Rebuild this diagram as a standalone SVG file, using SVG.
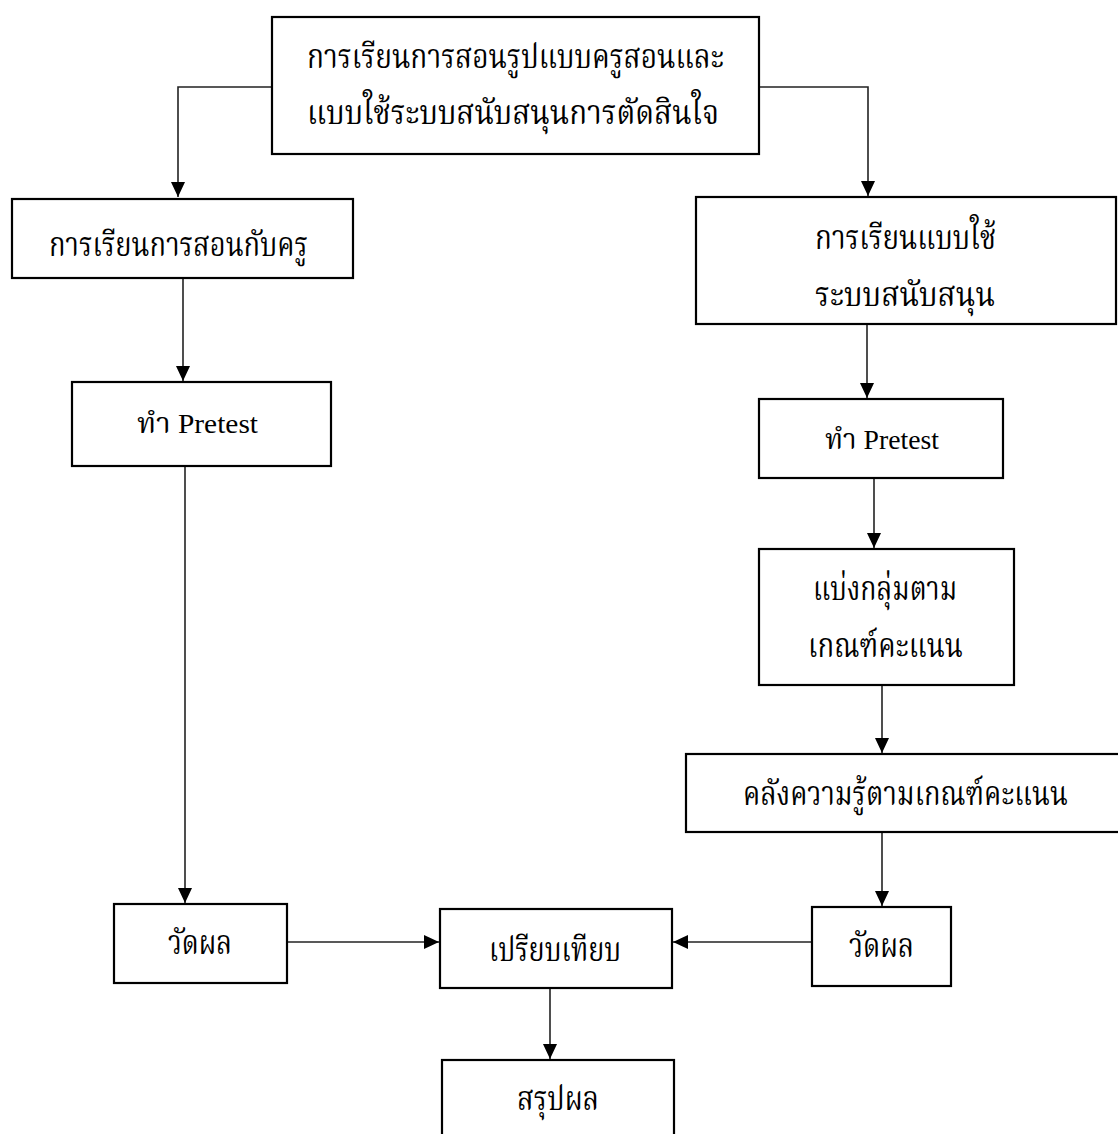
<svg xmlns="http://www.w3.org/2000/svg" width="1118" height="1134" viewBox="0 0 1118 1134">
<style>
.box{fill:#fff;stroke:#000;stroke-width:2.2}
.t{font-family:"Liberation Serif","Noto Serif Thai","Noto Sans Thai",serif;font-size:33px;fill:#000;text-anchor:middle}
.p{font-size:28px}
.c{fill:none;stroke:#222;stroke-width:1.6}
</style>
<defs>
<marker id="ah" viewBox="0 0 15 14" refX="15" refY="7" markerWidth="15" markerHeight="14" orient="auto" markerUnits="userSpaceOnUse">
<path d="M0,0 L15,7 L0,14 z" fill="#000"/>
</marker>
</defs>
<rect width="1118" height="1134" fill="#fff"/>
<g id="connectors">
<path class="c" d="M272,87 H178 V197" marker-end="url(#ah)"/>
<path class="c" d="M759,87 H868 V196" marker-end="url(#ah)"/>
<path class="c" d="M183,278 V381" marker-end="url(#ah)"/>
<path class="c" d="M185,466 V903" marker-end="url(#ah)"/>
<path class="c" d="M867,324 V398" marker-end="url(#ah)"/>
<path class="c" d="M874,478 V548" marker-end="url(#ah)"/>
<path class="c" d="M882,685 V753" marker-end="url(#ah)"/>
<path class="c" d="M882,832 V906" marker-end="url(#ah)"/>
<path class="c" d="M287,942 H439" marker-end="url(#ah)"/>
<path class="c" d="M812,942 H673" marker-end="url(#ah)"/>
<path class="c" d="M550,988 V1059" marker-end="url(#ah)"/>
</g>
<g id="n-top">
<rect class="box" x="272" y="17" width="487" height="137"/>
<text class="t" x="515.5" y="68" textLength="417" lengthAdjust="spacingAndGlyphs">การเรียนการสอนรูปแบบครูสอนและ</text>
<text class="t" x="513" y="124" textLength="412" lengthAdjust="spacingAndGlyphs">แบบใช้ระบบสนับสนุนการตัดสินใจ</text>
</g>
<g id="n-teacher">
<rect class="box" x="12" y="199" width="341" height="79"/>
<text class="t" x="178.5" y="256" textLength="259" lengthAdjust="spacingAndGlyphs">การเรียนการสอนกับครู</text>
</g>
<g id="n-pretest-left">
<rect class="box" x="72" y="382" width="259" height="84"/>
<text class="t p" x="197.5" y="433" textLength="121" lengthAdjust="spacingAndGlyphs">ทำ Pretest</text>
</g>
<g id="n-measure-left">
<rect class="box" x="114" y="904" width="173" height="79"/>
<text class="t" x="200" y="954" textLength="64" lengthAdjust="spacingAndGlyphs">วัดผล</text>
</g>
<g id="n-system">
<rect class="box" x="696" y="197" width="420" height="127"/>
<text class="t" x="905.5" y="249" textLength="181" lengthAdjust="spacingAndGlyphs">การเรียนแบบใช้</text>
<text class="t" x="905" y="306" textLength="180" lengthAdjust="spacingAndGlyphs">ระบบสนับสนุน</text>
</g>
<g id="n-pretest-right">
<rect class="box" x="759" y="399" width="244" height="79"/>
<text class="t p" x="882" y="449" textLength="114" lengthAdjust="spacingAndGlyphs">ทำ Pretest</text>
</g>
<g id="n-group">
<rect class="box" x="759" y="549" width="255" height="136"/>
<text class="t" x="885" y="600" textLength="144" lengthAdjust="spacingAndGlyphs">แบ่งกลุ่มตาม</text>
<text class="t" x="885.5" y="657" textLength="155" lengthAdjust="spacingAndGlyphs">เกณฑ์คะแนน</text>
</g>
<g id="n-knowledge">
<rect class="box" x="686" y="754" width="440" height="78"/>
<text class="t" x="905.5" y="805" textLength="325" lengthAdjust="spacingAndGlyphs">คลังความรู้ตามเกณฑ์คะแนน</text>
</g>
<g id="n-measure-right">
<rect class="box" x="812" y="907" width="139" height="79"/>
<text class="t" x="881.5" y="957" textLength="65" lengthAdjust="spacingAndGlyphs">วัดผล</text>
</g>
<g id="n-compare">
<rect class="box" x="440" y="909" width="232" height="79"/>
<text class="t" x="555" y="961" textLength="132" lengthAdjust="spacingAndGlyphs">เปรียบเทียบ</text>
</g>
<g id="n-conclude">
<rect class="box" x="442" y="1060" width="232" height="90"/>
<text class="t" x="558" y="1110" textLength="82" lengthAdjust="spacingAndGlyphs">สรุปผล</text>
</g>
</svg>
